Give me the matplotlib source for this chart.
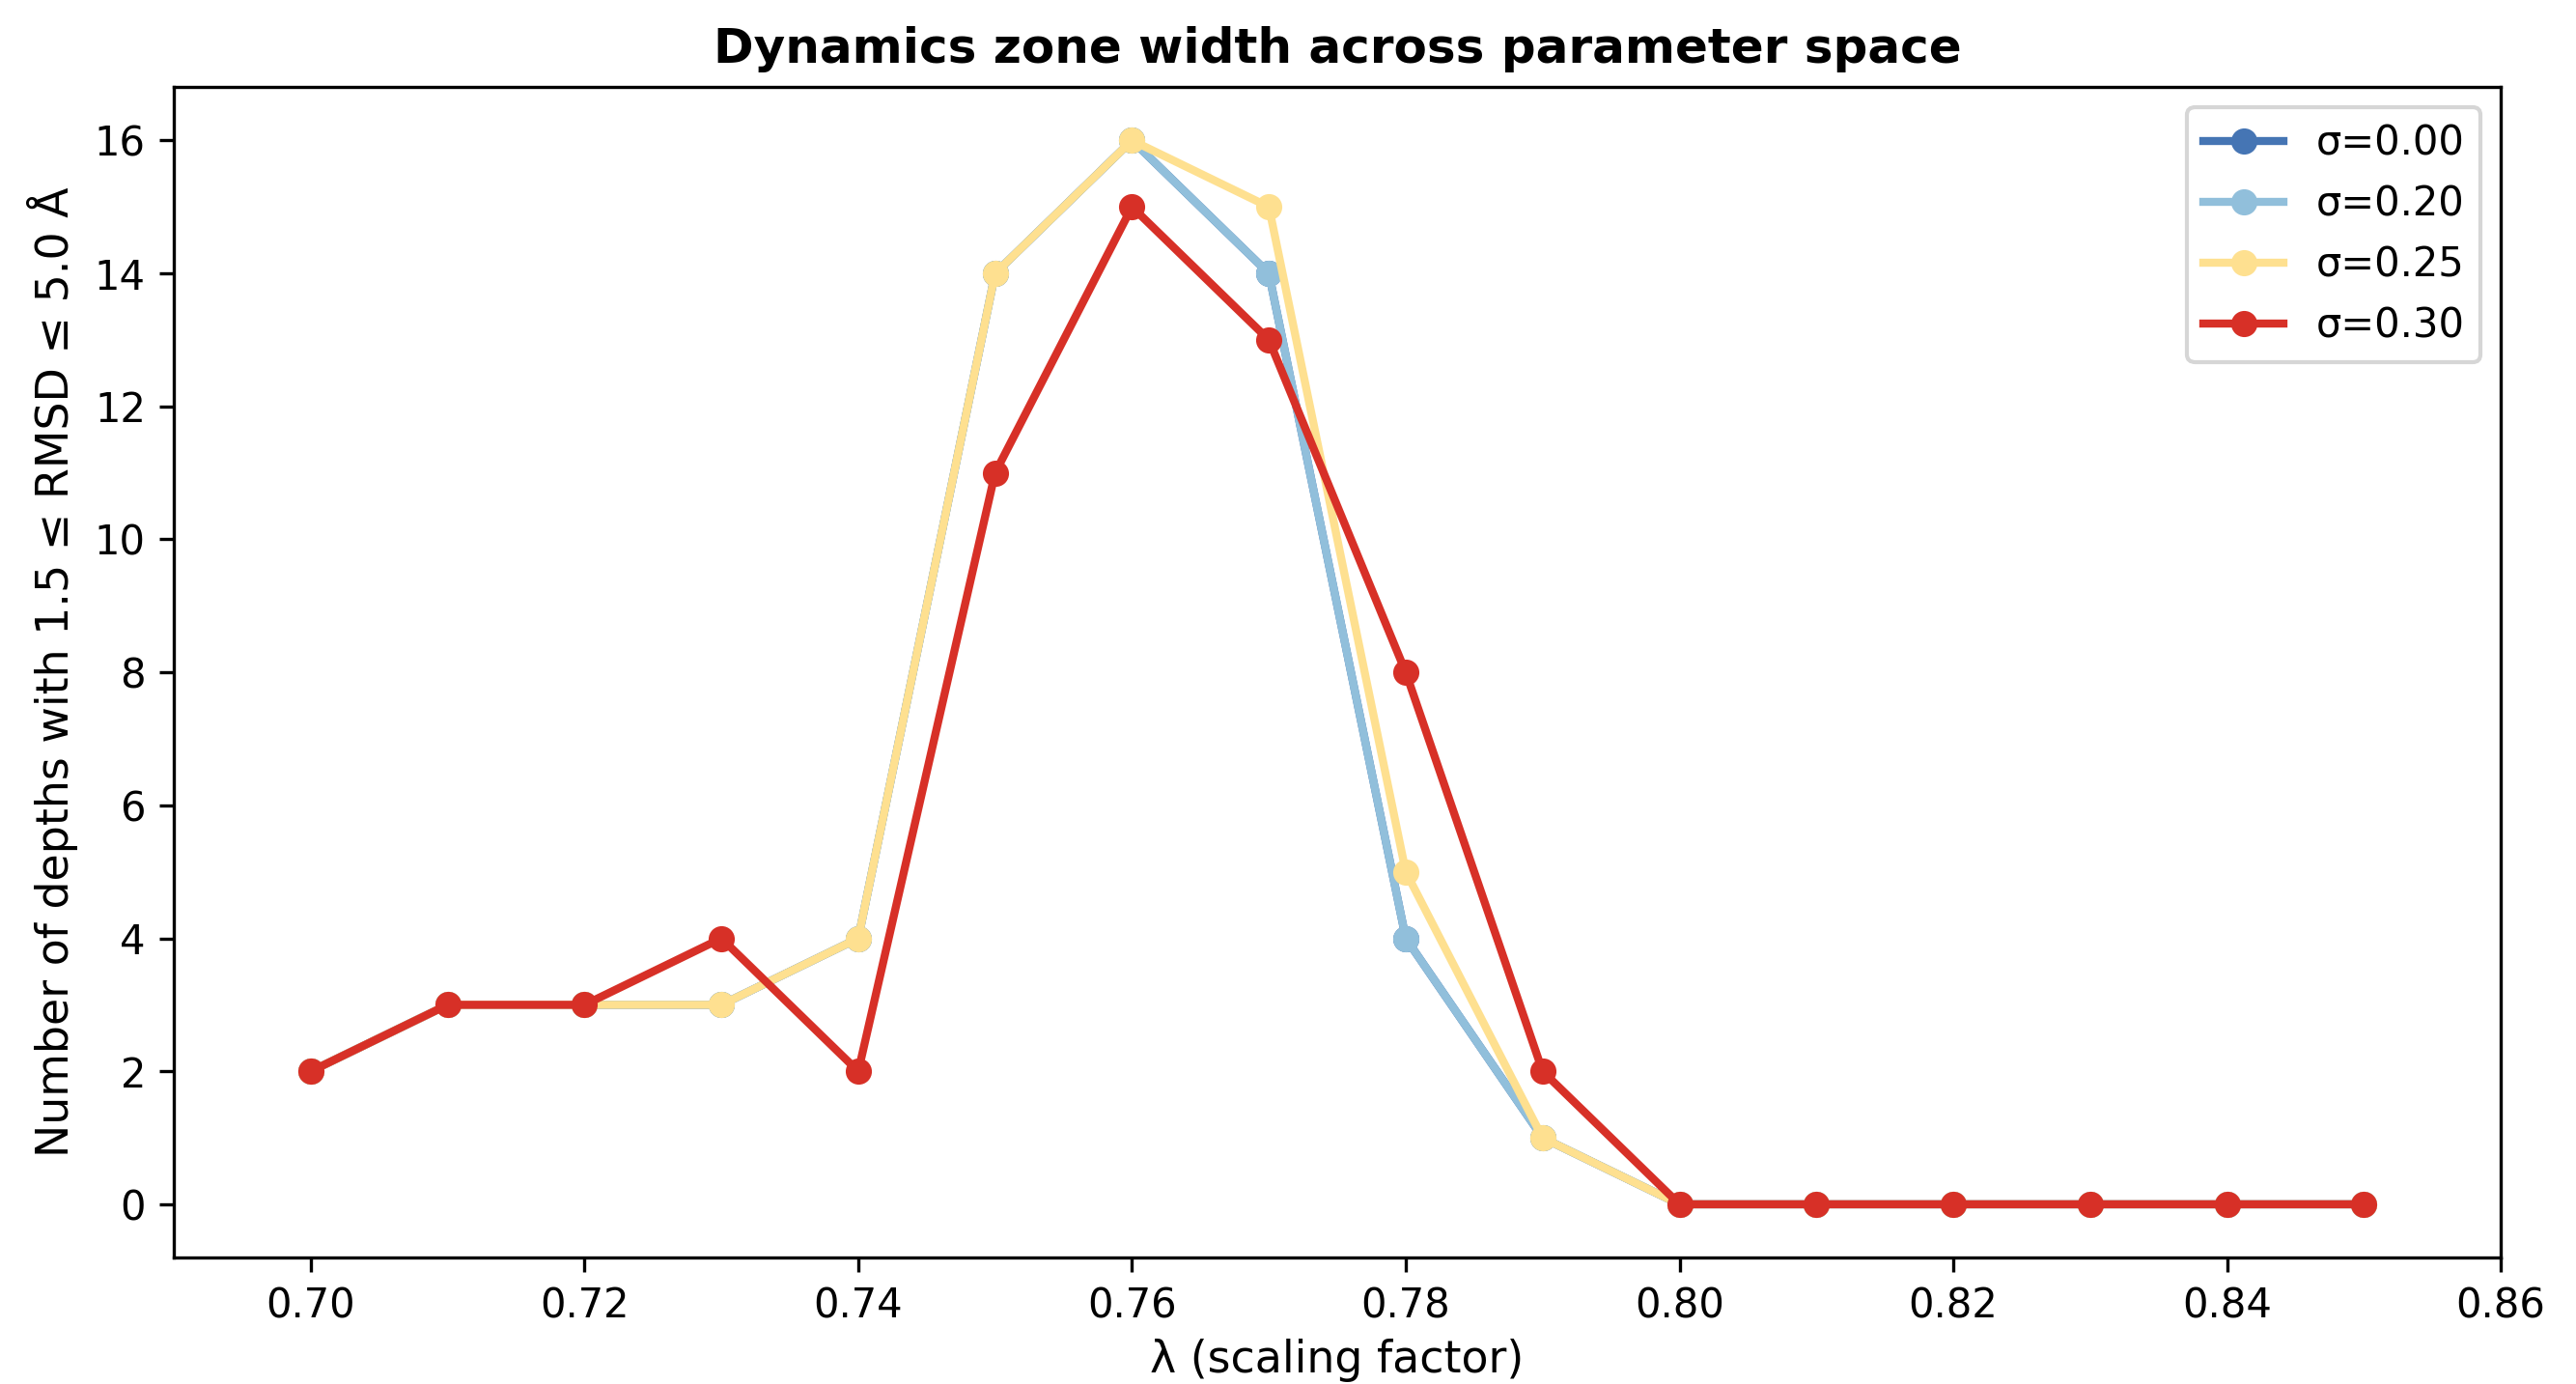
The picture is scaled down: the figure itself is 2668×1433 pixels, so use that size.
import numpy as np
import matplotlib
matplotlib.use('Agg')
from matplotlib import pyplot as plt

# data
lam = [0.70, 0.71, 0.72, 0.73, 0.74, 0.75, 0.76, 0.77, 0.78, 0.79, 0.80, 0.81, 0.82, 0.83, 0.84, 0.85]
sigmas = ['0.00', '0.20', '0.25', '0.30']
w_000 = [2, 3, 3, 3, 4, 14, 16, 14, 4, 1, 0, 0, 0, 0, 0, 0]
w_020 = [2, 3, 3, 3, 4, 14, 16, 14, 4, 1, 0, 0, 0, 0, 0, 0]
w_025 = [2, 3, 3, 3, 4, 14, 16, 15, 5, 1, 0, 0, 0, 0, 0, 0]
w_030 = [2, 3, 3, 4, 2, 11, 15, 13, 8, 2, 0, 0, 0, 0, 0, 0]
colors = ['#4575b4', '#91bfdb', '#fee090', '#d73027']

fig, ax = plt.subplots(figsize=(2668 / 300, 1433 / 300), dpi=300)
fig.subplots_adjust(left=0.0675, right=0.9708, top=0.937, bottom=0.0914)

for s, w, c in zip(sigmas, [w_000, w_020, w_025, w_030], colors):
    ax.plot(lam, w, marker='o', color=c, lw=2, markersize=5.5, label=f'σ={s}')

ax.set_xlim(0.69, 0.86)
ax.set_xticks(np.round(np.arange(0.70, 0.861, 0.02), 2))
ax.set_title('Dynamics zone width across parameter space', fontsize=12, fontweight='bold')
ax.set_xlabel('λ (scaling factor)', fontsize=11, labelpad=3)
ax.set_ylabel('Number of depths with 1.5 ≤ RMSD ≤ 5.0 Å', fontsize=11)
ax.tick_params(labelsize=10)
ax.legend(loc='upper right', fontsize=10)

plt.savefig('out.png', dpi=300)
